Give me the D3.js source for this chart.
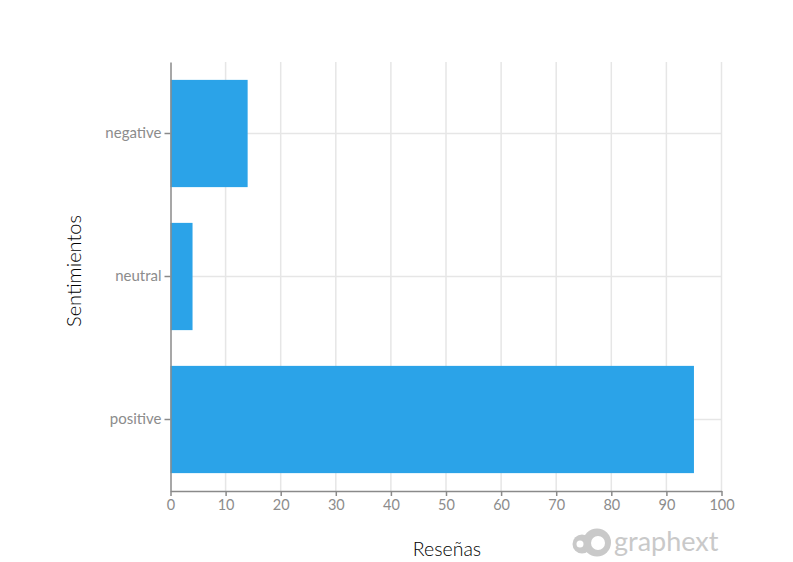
<!DOCTYPE html>
<html><head><meta charset="utf-8">
<script src="https://cdn.jsdelivr.net/npm/d3@7"></script>
<style>
body{margin:0;background:#fff;}
svg{display:block;font-family:Lato, "Open Sans", sans-serif;}
</style></head>
<body>
<svg id="c" width="793" height="562"></svg>
<script>
const categories = ["negative", "neutral", "positive"];
const values = [14, 4, 95];
const xTicks = [0, 10, 20, 30, 40, 50, 60, 70, 80, 90, 100];
const xTitle = "Reseñas";
const yTitle = "Sentimientos";

const svg = d3.select("#c");
const pLeft = 170.5, pRight = 721.5, pTop = 62, pBottom = 491;

const x = d3.scaleLinear().domain([0, 100]).range([pLeft, pRight]);
const y = d3.scaleBand().domain(categories).range([pTop, pBottom]).paddingInner(0.25).paddingOuter(0.125);

// grid
svg.append("g").selectAll("line").data(xTicks.slice(1)).join("line")
  .attr("x1", d => x(d)).attr("x2", d => x(d)).attr("y1", pTop).attr("y2", pBottom)
  .attr("stroke", "#e6e6e6").attr("stroke-width", 1.5);
svg.append("g").selectAll("line").data(categories).join("line")
  .attr("x1", pLeft).attr("x2", pRight).attr("y1", d => y(d) + y.bandwidth()/2).attr("y2", d => y(d) + y.bandwidth()/2)
  .attr("stroke", "#e6e6e6").attr("stroke-width", 1.5);

// bars
svg.append("g").selectAll("rect").data(categories).join("rect")
  .attr("x", x(0)).attr("y", d => y(d))
  .attr("width", (d, i) => x(values[i]) - x(0))
  .attr("height", y.bandwidth())
  .attr("fill", "#2ba3e8");

// x axis
const xa = svg.append("g").attr("transform", `translate(0,${pBottom})`)
  .call(d3.axisBottom(x).tickValues(xTicks).tickSize(5).tickPadding(4).tickSizeOuter(0));
xa.select(".domain").attr("stroke", "#8a8a8a").attr("stroke-width", 1.5);
xa.selectAll(".tick line").attr("stroke", "#8a8a8a").attr("stroke-width", 1.5);
xa.selectAll(".tick text").attr("fill", "#8c8c8c").attr("font-size", 14.5).attr("font-family", "Lato, sans-serif");

// y axis
const ya = svg.append("g").attr("transform", `translate(${pLeft},0)`)
  .call(d3.axisLeft(y).tickSize(6).tickPadding(3).tickSizeOuter(0));
ya.select(".domain").attr("stroke", "#8a8a8a").attr("stroke-width", 1.5);
ya.selectAll(".tick line").attr("stroke", "#8a8a8a").attr("stroke-width", 1.5);
ya.selectAll(".tick text").attr("fill", "#8c8c8c").attr("font-size", 15).attr("font-family", "Lato, sans-serif");

// titles
svg.append("text").attr("x", 447).attr("y", 556).attr("text-anchor", "middle")
  .attr("font-size", 19.5).attr("font-weight", 300).attr("fill", "#000").text(xTitle);
svg.append("text").attr("transform", "translate(81,271) rotate(-90)").attr("text-anchor", "middle")
  .attr("font-size", 20).attr("font-weight", 300).attr("fill", "#000").text(yTitle);

// watermark
const wm = svg.append("g").attr("fill", "#c9c9c9");
wm.append("circle").attr("cx", 582).attr("cy", 544).attr("r", 9.5);
wm.append("circle").attr("cx", 597).attr("cy", 542.5).attr("r", 14);
wm.append("circle").attr("cx", 580).attr("cy", 544).attr("r", 3.5).attr("fill", "#fff");
wm.append("circle").attr("cx", 598).attr("cy", 543).attr("r", 7).attr("fill", "#fff");
wm.append("text").attr("x", 614).attr("y", 551).attr("font-size", 27).attr("font-family", "Lato, sans-serif").text("graphext");
</script>
</body></html>
